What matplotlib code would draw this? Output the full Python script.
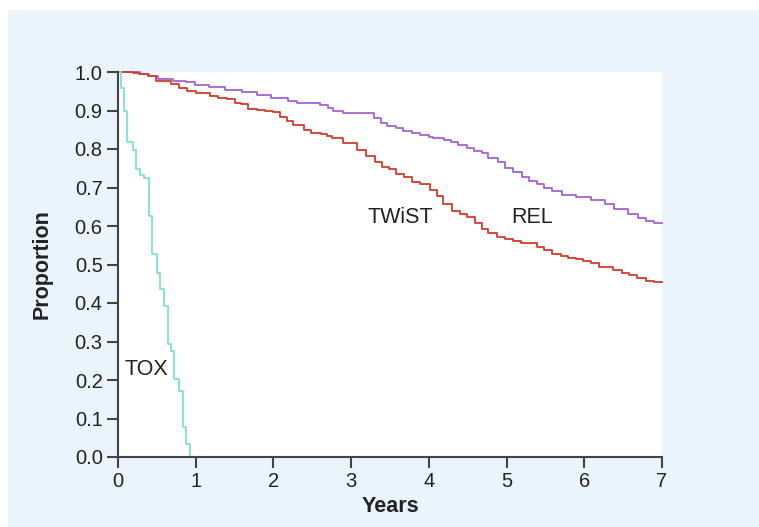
import matplotlib.pyplot as plt
from matplotlib.patches import Rectangle

plt.rcParams['font.family'] = ['Liberation Sans', 'DejaVu Sans']

# TOX curve (drop times in years, survival after drop)
tox_t = [0, 0.039, 0.081, 0.12, 0.197, 0.232, 0.287, 0.338, 0.395, 0.434,
         0.498, 0.544, 0.596, 0.643, 0.682, 0.724, 0.785, 0.836, 0.879, 0.930]
tox_p = [1.0, 0.958, 0.90, 0.817, 0.797, 0.747, 0.732, 0.724, 0.626, 0.526,
         0.477, 0.436, 0.392, 0.294, 0.276, 0.203, 0.172, 0.079, 0.034, 0.0]

# REL curve
rel_t = [0, 0.283, 0.403, 0.519, 0.712, 0.875, 0.991, 1.175, 1.381, 1.592,
         1.793, 1.969, 2.184, 2.300, 2.599, 2.706, 2.770, 2.899, 3.294, 3.380,
         3.465, 3.577, 3.671, 3.779, 3.886, 4.002, 4.057, 4.195, 4.285, 4.371,
         4.487, 4.581, 4.680, 4.765, 4.886, 4.980, 5.087, 5.195, 5.293, 5.396,
         5.482, 5.581, 5.709, 5.890, 6.083, 6.267, 6.382, 6.566, 6.687, 6.794,
         6.897, 7.0]
rel_p = [1.0, 0.996, 0.990, 0.982, 0.977, 0.973, 0.967, 0.960, 0.953, 0.947,
         0.941, 0.933, 0.925, 0.920, 0.915, 0.907, 0.899, 0.893, 0.880, 0.868,
         0.861, 0.854, 0.847, 0.842, 0.836, 0.832, 0.829, 0.823, 0.818, 0.810,
         0.802, 0.796, 0.789, 0.777, 0.765, 0.750, 0.740, 0.728, 0.718, 0.709,
         0.700, 0.692, 0.681, 0.675, 0.668, 0.656, 0.644, 0.631, 0.620, 0.614,
         0.607, 0.607]

# TWiST curve
twist_t = [0, 0.197, 0.274, 0.390, 0.489, 0.678, 0.785, 0.884, 1.004, 1.184,
           1.291, 1.399, 1.506, 1.579, 1.677, 1.785, 1.892, 1.998, 2.085, 2.179,
           2.256, 2.393, 2.480, 2.608, 2.686, 2.758, 2.899, 3.072, 3.191, 3.307,
           3.393, 3.491, 3.573, 3.684, 3.779, 3.886, 4.015, 4.101, 4.178, 4.294,
           4.401, 4.487, 4.594, 4.680, 4.765, 4.881, 4.980, 5.087, 5.182, 5.388,
           5.482, 5.581, 5.697, 5.795, 5.890, 5.988, 6.083, 6.194, 6.374, 6.482,
           6.580, 6.675, 6.794, 6.897, 7.0]
twist_p = [1.0, 0.998, 0.994, 0.990, 0.977, 0.970, 0.958, 0.951, 0.945, 0.938,
           0.932, 0.929, 0.920, 0.916, 0.905, 0.902, 0.899, 0.895, 0.884, 0.872,
           0.863, 0.849, 0.842, 0.839, 0.834, 0.828, 0.815, 0.797, 0.782, 0.766,
           0.752, 0.747, 0.735, 0.728, 0.714, 0.709, 0.694, 0.678, 0.657, 0.638,
           0.631, 0.624, 0.607, 0.592, 0.581, 0.572, 0.566, 0.562, 0.557, 0.546,
           0.538, 0.527, 0.522, 0.518, 0.513, 0.509, 0.505, 0.493, 0.486, 0.479,
           0.473, 0.464, 0.458, 0.454, 0.454]

x_ticks = [0, 1, 2, 3, 4, 5, 6, 7]
y_ticks = [0.0, 0.1, 0.2, 0.3, 0.4, 0.5, 0.6, 0.7, 0.8, 0.9, 1.0]

fig = plt.figure(figsize=(7.59, 5.27), dpi=100, facecolor='white')
bg = Rectangle((8 / 759, 0), 1, 517 / 527, transform=fig.transFigure,
               facecolor='#eaf4fd', edgecolor='none', zorder=-10)
fig.add_artist(bg)
ax = fig.add_axes([118 / 759, 70 / 527, 544 / 759, 385 / 527])
ax.set_facecolor('white')

ax.step(rel_t, rel_p, where='post', color='#a662d4', lw=1.3, clip_on=False)
ax.step(twist_t, twist_p, where='post', color='#d23b2a', lw=1.3, clip_on=False)
ax.step(tox_t, tox_p, where='post', color='#80e2d2', lw=1.3, clip_on=False)

ax.text(3.63, 0.623, 'TWiST', fontsize=15.5, color='#222222', ha='center', va='center')
ax.text(5.33, 0.623, 'REL', fontsize=15.5, color='#222222', ha='center', va='center')
ax.text(0.36, 0.226, 'TOX', fontsize=15.5, color='#222222', ha='center', va='center')

ax.set_xlim(0, 7)
ax.set_ylim(0, 1)
ax.set_xticks(x_ticks)
ax.set_yticks(y_ticks)
ax.set_yticklabels([f'{v:.1f}' for v in y_ticks])
for s in ['top', 'right']:
    ax.spines[s].set_visible(False)
for s in ['left', 'bottom']:
    ax.spines[s].set_color('#444444')
    ax.spines[s].set_linewidth(1.5)
ax.tick_params(direction='out', length=8, width=1.5, color='#444444',
               labelsize=14.5, labelcolor='#222222', pad=3)

ax.set_xlabel('Years', fontsize=15.5, fontweight='bold', color='#222222', va='center')
ax.set_ylabel('Proportion', fontsize=15.5, fontweight='bold', color='#222222', va='center')
ax.xaxis.set_label_coords(0.5, (457 - 506) / 385)
ax.yaxis.set_label_coords((42 - 118) / 544, 0.5)

fig.savefig('out.png', dpi=100, facecolor=fig.get_facecolor())
